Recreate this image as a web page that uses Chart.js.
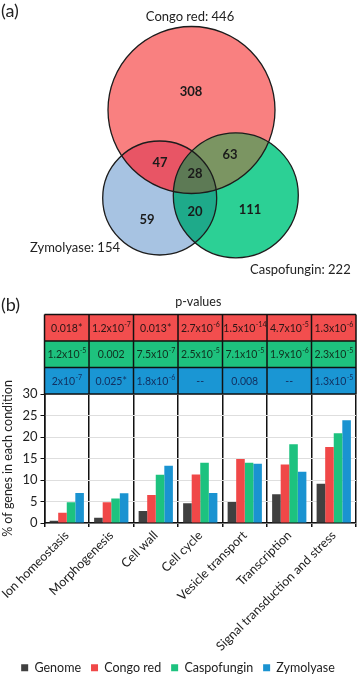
<!DOCTYPE html>
<html><head><meta charset="utf-8">
<script src="https://cdn.jsdelivr.net/npm/chart.js@4"></script>
<style>
html,body{margin:0;padding:0;background:#fff;overflow:hidden;}
#wrap{position:relative;width:358px;height:675px;overflow:hidden;background:#fff;}
.box{position:absolute;left:0;}
</style></head><body>
<div id="wrap">
<div class="box" style="top:0;width:358px;height:290px"><canvas id="venn" width="358" height="290"></canvas></div>
<div class="box" style="top:290px;width:358px;height:394px"><canvas id="bars" width="358" height="394"></canvas></div>
</div>
<script>
// ---------- DATA ----------
const setNames = ['Congo red', 'Zymolyase', 'Caspofungin'];
const setTotals = [446, 154, 222];
// regions: CR only, CR∩Z, CR∩C, CR∩Z∩C, Z only, Z∩C, C only
const regionCounts = [308, 47, 63, 28, 59, 20, 111];

const categories = ['Ion homeostasis', 'Morphogenesis', 'Cell wall', 'Cell cycle', 'Vesicle transport', 'Transcription', 'Signal transduction and stress'];
const seriesNames = ['Genome', 'Congo red', 'Caspofungin', 'Zymolyase'];
const genome = [0.5, 1.2, 2.8, 4.6, 4.9, 6.7, 9.1];
const congoRed = [2.4, 4.8, 6.5, 11.3, 14.9, 13.6, 17.7];
const caspofungin = [4.8, 5.7, 11.2, 14.0, 14.0, 18.3, 20.9];
const zymolyase = [7.0, 6.9, 13.3, 7.0, 13.8, 11.9, 23.9];
const yTicks = [0, 5, 10, 15, 20, 25, 30];
const pCongoRed = ['0.018*', '1.2x10^-7', '0.013*', '2.7x10^-6', '1.5x10^-14', '4.7x10^-5', '1.3x10^-6'];
const pCaspofungin = ['1.2x10^-5', '0.002', '7.5x10^-7', '2.5x10^-5', '7.1x10^-5', '1.9x10^-6', '2.3x10^-5'];
const pZymolyase = ['2x10^-7', '0.025*', '1.8x10^-6', '--', '0.008', '--', '1.3x10^-5'];
const tableTitle = 'p-values';
const yTitle = '% of genes in each condition';

// ---------- LAYOUT / STYLE ----------
const FONT = 'Lato, "Open Sans", sans-serif';
const vennGeom = [ {x:191.5, y:110, r:83.5}, {x:159.7, y:198, r:57}, {x:235.8, y:195.3, r:62.5} ];
const vennFill = ['#F98080', '#A7C3E2', '#2CD095'];
const interFill = {cz:'#E85565', cc:'#7B9562', zc:'#1EAA8A', all:'#5D7A55'};
const regionPos = [[191,92],[160,163],[230,155],[195,174],[147,220],[195,212],[250,210]];
const setLabelPos = [{x:190,y:17,align:'center'},{x:30,y:248,align:'left'},{x:250,y:270,align:'left'}];
const seriesColors = ['#404040', '#F04848', '#1DC27F', '#1A93D1'];
const rowColors = ['#F24E4E', '#1EC27E', '#1A96D4'];
const rowText = ['#2a1515', '#10301f', '#123262'];

// ---------- VENN ----------
const vennPlugin = {
  id: 'vennDecor',
  afterDatasetsDraw(chart) {
    const ctx = chart.ctx;
    const els = [0,1,2].map(i => chart.getDatasetMeta(i).data[0]);
    const circ = e => { ctx.beginPath(); ctx.arc(e.x, e.y, e.options.radius, 0, Math.PI*2); };
    const inter = (idx, color) => {
      ctx.save();
      for (let k = 0; k < idx.length - 1; k++) { circ(els[idx[k]]); ctx.clip(); }
      circ(els[idx[idx.length-1]]); ctx.fillStyle = color; ctx.fill();
      ctx.restore();
    };
    inter([0,1], interFill.cz); inter([0,2], interFill.cc); inter([1,2], interFill.zc); inter([0,1,2], interFill.all);
    ctx.save();
    ctx.strokeStyle = '#1c1c1c'; ctx.lineWidth = 1.3;
    els.forEach(e => { circ(e); ctx.stroke(); });
    ctx.fillStyle = '#1a1a1a'; ctx.textBaseline = 'middle';
    ctx.font = 'bold 13px ' + FONT; ctx.textAlign = 'center';
    regionCounts.forEach((v, i) => ctx.fillText(String(v), regionPos[i][0], regionPos[i][1]));
    ctx.font = '13px ' + FONT; ctx.fillStyle = '#222';
    setNames.forEach((n, i) => { ctx.textAlign = setLabelPos[i].align; ctx.fillText(n + ': ' + setTotals[i], setLabelPos[i].x, setLabelPos[i].y); });
    ctx.font = '18px ' + FONT; ctx.textAlign = 'left';
    ctx.fillText('(a)', 1, 11);
    ctx.restore();
  }
};
new Chart(document.getElementById('venn'), {
  type: 'bubble',
  data: { datasets: setNames.map((n, i) => ({ label: n, data: [vennGeom[i]], backgroundColor: vennFill[i], borderWidth: 0, hoverRadius: 0, clip: false })) },
  options: {
    responsive: false, animation: false, devicePixelRatio: 1,
    layout: { padding: 0, autoPadding: false },
    plugins: { legend: { display: false }, tooltip: { enabled: false } },
    scales: { x: { type: 'linear', min: 0, max: 358, display: false }, y: { type: 'linear', min: 0, max: 290, reverse: true, display: false } }
  },
  plugins: [vennPlugin]
});

// ---------- BARS + TABLE ----------
function drawRich(ctx, str, cx, cy, color) {
  const parts = str.split('^');
  const base = parts[0], sup = parts[1] || '';
  ctx.font = '10.5px ' + FONT;
  const wb = ctx.measureText(base).width;
  ctx.font = '7px ' + FONT;
  const ws = sup ? ctx.measureText(sup).width : 0;
  let x = cx - (wb + ws) / 2;
  ctx.fillStyle = color; ctx.textAlign = 'left'; ctx.textBaseline = 'middle';
  ctx.font = '10.5px ' + FONT; ctx.fillText(base, x, cy);
  if (sup) { ctx.font = '7px ' + FONT; ctx.fillText(sup, x + wb + 0.3, cy - 4); }
}
const tablePlugin = {
  id: 'pTable',
  afterDraw(chart) {
    const ctx = chart.ctx, xs = chart.scales.x, area = chart.chartArea;
    const rows = [pCongoRed, pCaspofungin, pZymolyase];
    const rowH = 26.5, n = categories.length, cw = (area.right - area.left) / n;
    const top = area.top - rows.length * rowH;
    ctx.save();
    rows.forEach((row, r) => {
      const y0 = top + r * rowH;
      row.forEach((txt, i) => {
        const cx = xs.getPixelForValue(i);
        ctx.fillStyle = rowColors[r];
        ctx.fillRect(cx - cw/2, y0, cw, rowH);
        drawRich(ctx, txt, cx, y0 + rowH/2 + 0.5, rowText[r]);
      });
    });
    ctx.strokeStyle = '#111'; ctx.lineWidth = 1.5;
    for (let r = 0; r <= rows.length; r++) {
      ctx.beginPath(); ctx.moveTo(area.left, top + r*rowH); ctx.lineTo(area.right, top + r*rowH); ctx.stroke();
    }
    for (let i = 0; i <= n; i++) {
      const x = area.left + i * cw;
      ctx.beginPath(); ctx.moveTo(x, top); ctx.lineTo(x, area.top); ctx.stroke();
    }
    ctx.fillStyle = '#222'; ctx.textAlign = 'center'; ctx.textBaseline = 'middle';
    ctx.font = '12.5px ' + FONT;
    ctx.fillText(tableTitle, (area.left + area.right)/2 - 2, 11.5);
    ctx.font = '18px ' + FONT; ctx.textAlign = 'left';
    ctx.fillText('(b)', 1, 15);
    ctx.restore();
  }
};
const seriesData = [genome, congoRed, caspofungin, zymolyase];
new Chart(document.getElementById('bars'), {
  type: 'bar',
  data: {
    labels: categories,
    datasets: seriesNames.map((s, i) => ({ label: s, data: seriesData[i], backgroundColor: seriesColors[i], borderWidth: 0 }))
  },
  options: {
    responsive: false, animation: false, devicePixelRatio: 1,
    layout: { padding: { top: 104, right: 2, left: 0, bottom: 0 } },
    datasets: { bar: { categoryPercentage: 0.77, barPercentage: 1 } },
    plugins: {
      tooltip: { enabled: false },
      legend: { position: 'bottom', labels: { boxWidth: 7, boxHeight: 7, padding: 10, color: '#222', font: { family: FONT, size: 12.5 } } }
    },
    scales: {
      x: {
        grid: { color: '#111', lineWidth: 1.5, offset: true, tickLength: 4, tickColor: '#111' },
        border: { color: '#111', width: 1.5 },
        ticks: { minRotation: 45, maxRotation: 45, autoSkip: false, padding: 1, color: '#222', font: { family: FONT, size: 12.5 } },
        afterFit(s) { s.height = 128.5; }
      },
      y: {
        min: 0, max: 30,
        afterBuildTicks(s) { s.ticks = yTicks.map(v => ({ value: v })); },
        grid: { color: '#dedede', lineWidth: 1, tickColor: '#111', tickLength: 4 },
        border: { color: '#111', width: 1.5 },
        ticks: { padding: 3, color: '#222', font: { family: FONT, size: 13 } },
        title: { display: true, text: yTitle, color: '#222', padding: { top: 0, bottom: 0 }, font: { family: FONT, size: 12.5 } },
        afterFit(s) { s.width = 44.3; }
      }
    }
  },
  plugins: [tablePlugin]
});
</script>
</body></html>
